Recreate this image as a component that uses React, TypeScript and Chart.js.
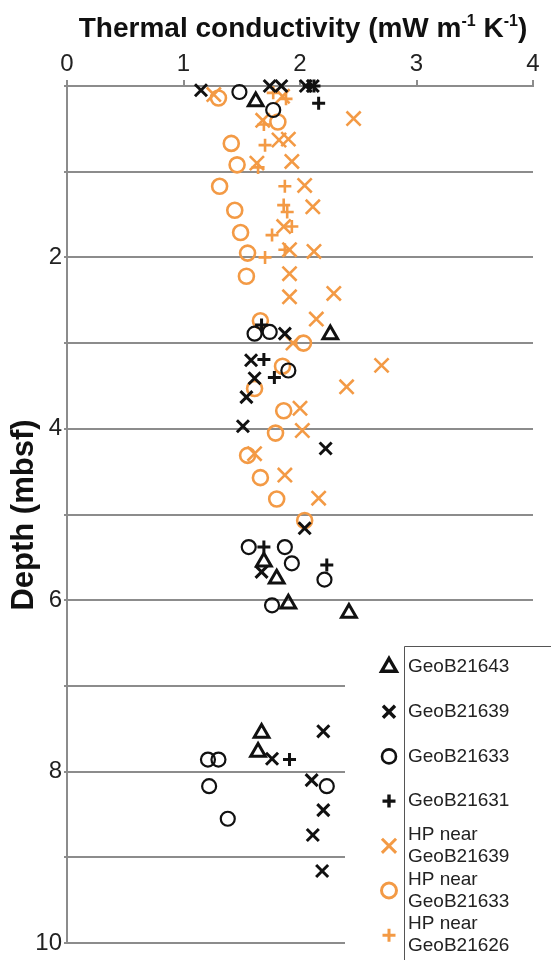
import React, { useEffect, useRef } from "react";
import { Chart, registerables } from "chart.js";
import { drawPoint } from "chart.js/helpers";

Chart.register(...registerables);

const FONT = "'Liberation Sans', Arial, sans-serif";
const BLACK = "#111111";
const ORANGE = "#f39a45";
const GRID = "#8c8c8c";

// Thermal conductivity (x) vs depth in mbsf (y)
const geoB21643 = [
  { x: 1.62, y: 0.18 }, { x: 2.26, y: 2.9 }, { x: 1.69, y: 5.55 }, { x: 1.8, y: 5.75 },
  { x: 1.9, y: 6.04 }, { x: 2.42, y: 6.15 }, { x: 1.67, y: 7.55 }, { x: 1.64, y: 7.77 },
];
const geoB21639 = [
  { x: 1.15, y: 0.05 }, { x: 1.74, y: 0.0 }, { x: 1.84, y: 0.0 }, { x: 2.05, y: 0.0 },
  { x: 2.11, y: 0.0 }, { x: 1.87, y: 2.89 }, { x: 1.58, y: 3.2 }, { x: 1.61, y: 3.41 },
  { x: 1.54, y: 3.63 }, { x: 1.51, y: 3.97 }, { x: 2.22, y: 4.23 }, { x: 2.04, y: 5.16 },
  { x: 1.67, y: 5.67 }, { x: 2.2, y: 7.53 }, { x: 1.76, y: 7.85 }, { x: 2.1, y: 8.1 },
  { x: 2.2, y: 8.45 }, { x: 2.11, y: 8.74 }, { x: 2.19, y: 9.16 },
];
const geoB21633 = [
  { x: 1.48, y: 0.07 }, { x: 1.77, y: 0.28 }, { x: 1.61, y: 2.89 }, { x: 1.74, y: 2.87 },
  { x: 1.9, y: 3.32 }, { x: 1.56, y: 5.38 }, { x: 1.87, y: 5.38 }, { x: 1.93, y: 5.57 },
  { x: 2.21, y: 5.76 }, { x: 1.76, y: 6.06 }, { x: 1.21, y: 7.86 }, { x: 1.3, y: 7.86 },
  { x: 1.22, y: 8.17 }, { x: 2.23, y: 8.17 }, { x: 1.38, y: 8.55 },
];
const geoB21631 = [
  { x: 2.08, y: 0.0 }, { x: 2.12, y: 0.0 }, { x: 2.16, y: 0.2 }, { x: 1.67, y: 2.79 },
  { x: 1.69, y: 3.19 }, { x: 1.78, y: 3.4 }, { x: 1.69, y: 5.38 }, { x: 2.23, y: 5.59 },
  { x: 1.91, y: 7.86 },
];
const hpNear21639 = [
  { x: 1.26, y: 0.1 }, { x: 1.85, y: 0.12 }, { x: 2.46, y: 0.38 }, { x: 1.68, y: 0.4 },
  { x: 1.82, y: 0.63 }, { x: 1.9, y: 0.62 }, { x: 1.63, y: 0.9 }, { x: 1.93, y: 0.88 },
  { x: 2.04, y: 1.16 }, { x: 2.11, y: 1.41 }, { x: 1.86, y: 1.64 }, { x: 1.91, y: 1.91 },
  { x: 2.12, y: 1.93 }, { x: 1.91, y: 2.19 }, { x: 1.91, y: 2.46 }, { x: 2.29, y: 2.42 },
  { x: 2.14, y: 2.72 }, { x: 1.94, y: 3.0 }, { x: 2.7, y: 3.26 }, { x: 2.4, y: 3.51 },
  { x: 2.0, y: 3.76 }, { x: 2.02, y: 4.02 }, { x: 1.61, y: 4.29 }, { x: 1.87, y: 4.54 },
  { x: 2.16, y: 4.81 },
];
const hpNear21633 = [
  { x: 1.3, y: 0.14 }, { x: 1.81, y: 0.42 }, { x: 1.41, y: 0.67 }, { x: 1.46, y: 0.92 },
  { x: 1.31, y: 1.17 }, { x: 1.44, y: 1.45 }, { x: 1.49, y: 1.71 }, { x: 1.55, y: 1.95 },
  { x: 1.54, y: 2.22 }, { x: 1.66, y: 2.74 }, { x: 2.03, y: 3.0 }, { x: 1.85, y: 3.27 },
  { x: 1.61, y: 3.53 }, { x: 1.86, y: 3.79 }, { x: 1.79, y: 4.05 }, { x: 1.55, y: 4.31 },
  { x: 1.66, y: 4.57 }, { x: 1.8, y: 4.82 }, { x: 2.04, y: 5.07 },
];
const hpNear21626 = [
  { x: 1.77, y: 0.08 }, { x: 1.88, y: 0.15 }, { x: 1.69, y: 0.45 }, { x: 1.7, y: 0.69 },
  { x: 1.64, y: 0.95 }, { x: 1.87, y: 1.17 }, { x: 1.86, y: 1.39 }, { x: 1.89, y: 1.47 },
  { x: 1.93, y: 1.64 }, { x: 1.76, y: 1.74 }, { x: 1.87, y: 1.91 }, { x: 1.7, y: 2.0 },
];

const seriesLabels = [
  ["GeoB21643"],
  ["GeoB21639"],
  ["GeoB21633"],
  ["GeoB21631"],
  ["HP near", "GeoB21639"],
  ["HP near", "GeoB21633"],
  ["HP near", "GeoB21626"],
];
const xTicks = [0, 1, 2, 3, 4];
const yTickLabels = [2, 4, 6, 8, 10];
const xTitleParts: [string, boolean][] = [
  ["Thermal conductivity (mW m", false],
  ["-1", true],
  [" K", false],
  ["-1", true],
  [")", false],
];
const yTitle = "Depth (mbsf)";

type Style = { data: { x: number; y: number }[]; color: string; pointStyle: string; radius: number; width: number };
const styles: Style[] = [
  { data: geoB21643, color: BLACK, pointStyle: "triangle", radius: 8.5, width: 3 },
  { data: geoB21639, color: BLACK, pointStyle: "crossRot", radius: 8.5, width: 3 },
  { data: geoB21633, color: BLACK, pointStyle: "circle", radius: 7, width: 2.2 },
  { data: geoB21631, color: BLACK, pointStyle: "cross", radius: 6.5, width: 3 },
  { data: hpNear21639, color: ORANGE, pointStyle: "crossRot", radius: 10, width: 2.6 },
  { data: hpNear21633, color: ORANGE, pointStyle: "circle", radius: 7.5, width: 2.6 },
  { data: hpNear21626, color: ORANGE, pointStyle: "cross", radius: 6.5, width: 2.6 },
];

const titlesPlugin = {
  id: "titles",
  afterDraw(chart: any) {
    const ctx = chart.ctx as CanvasRenderingContext2D;
    ctx.save();
    ctx.fillStyle = BLACK;
    ctx.textBaseline = "alphabetic";
    ctx.textAlign = "left";
    const big = `bold 28px ${FONT}`;
    const sup = `bold 16px ${FONT}`;
    let total = 0;
    for (const [t, s] of xTitleParts) {
      ctx.font = s ? sup : big;
      total += ctx.measureText(t).width;
    }
    const area = chart.chartArea;
    let x = (area.left + area.right) / 2 - total / 2 + 3;
    const base = 37;
    for (const [t, s] of xTitleParts) {
      ctx.font = s ? sup : big;
      ctx.fillText(t, x, s ? base - 11 : base);
      x += ctx.measureText(t).width;
    }
    ctx.translate(33, 515);
    ctx.rotate(-Math.PI / 2);
    ctx.font = `bold 31px ${FONT}`;
    ctx.textAlign = "center";
    ctx.fillText(yTitle, 0, 0);
    ctx.restore();
  },
};

const legendPlugin = {
  id: "boxLegend",
  afterDatasetsDraw(chart: any) {
    const ctx = chart.ctx as CanvasRenderingContext2D;
    const W = chart.width;
    const H = chart.height;
    ctx.save();
    ctx.fillStyle = "#ffffff";
    ctx.fillRect(345, 640, W - 345, H - 640);
    ctx.strokeStyle = "#555555";
    ctx.lineWidth = 1;
    ctx.beginPath();
    ctx.moveTo(404.5, H);
    ctx.lineTo(404.5, 646.5);
    ctx.lineTo(W, 646.5);
    ctx.stroke();
    ctx.font = `19px ${FONT}`;
    ctx.textAlign = "left";
    ctx.textBaseline = "middle";
    seriesLabels.forEach((lines, i) => {
      const st = styles[i];
      const cy = 667 + i * 44.7;
      ctx.strokeStyle = st.color;
      ctx.fillStyle = "rgba(0,0,0,0)";
      ctx.lineWidth = st.width + 0.4;
      drawPoint(ctx, { pointStyle: st.pointStyle as any, radius: st.radius, rotation: 0, borderWidth: st.width + 0.4 }, 389, cy);
      ctx.fillStyle = "#222222";
      if (lines.length === 1) {
        ctx.fillText(lines[0], 408, cy);
      } else {
        ctx.fillText(lines[0], 408, cy - 11);
        ctx.fillText(lines[1], 408, cy + 11);
      }
    });
    ctx.restore();
  },
};

export default function App() {
  const ref = useRef<HTMLCanvasElement | null>(null);
  useEffect(() => {
    if (!ref.current) return;
    Chart.defaults.font.family = FONT;
    const chart = new Chart(ref.current, {
      type: "scatter",
      data: {
        datasets: styles.map((s, i) => ({
          label: seriesLabels[i].join(" "),
          data: s.data,
          borderColor: s.color,
          backgroundColor: "rgba(0,0,0,0)",
          pointStyle: s.pointStyle as any,
          pointRadius: s.radius,
          pointBorderWidth: s.width,
          pointBorderColor: s.color,
          pointBackgroundColor: "rgba(0,0,0,0)",
          clip: false as any,
        })),
      },
      options: {
        animation: false,
        responsive: false,
        devicePixelRatio: 1,
        layout: { padding: { top: 0, left: 0, right: 18, bottom: 17 } },
        plugins: { legend: { display: false }, tooltip: { enabled: false }, title: { display: false } },
        scales: {
          x: {
            type: "linear",
            position: "top",
            min: 0,
            max: 4,
            afterBuildTicks: (s: any) => { s.ticks = xTicks.map((v) => ({ value: v })); },
            afterFit: (s: any) => { s.height = 86; },
            ticks: { font: { size: 24, family: FONT }, color: "#222222", padding: 1, maxRotation: 0 },
            grid: { drawOnChartArea: false, drawTicks: true, tickLength: 6, color: GRID, lineWidth: 2 },
            border: { display: true, color: GRID, width: 2 },
          },
          y: {
            type: "linear",
            reverse: true,
            min: 0,
            max: 10,
            afterFit: (s: any) => { s.width = 67; },
            ticks: {
              stepSize: 1,
              autoSkip: false,
              font: { size: 24, family: FONT },
              color: "#222222",
              padding: 2,
              callback: (v: any) => (yTickLabels.includes(Number(v)) ? String(v) : ""),
            },
            grid: { color: GRID, lineWidth: 2, drawTicks: true, tickLength: 3 },
            border: { display: true, color: GRID, width: 2 },
          },
        },
      },
      plugins: [legendPlugin, titlesPlugin],
    });
    return () => chart.destroy();
  }, []);
  return (
    <div style={{ position: "fixed", left: 0, top: 0, width: 551, height: 960, background: "#fff" }}>
      <canvas ref={ref} width={551} height={960} style={{ display: "block" }} />
    </div>
  );
}
